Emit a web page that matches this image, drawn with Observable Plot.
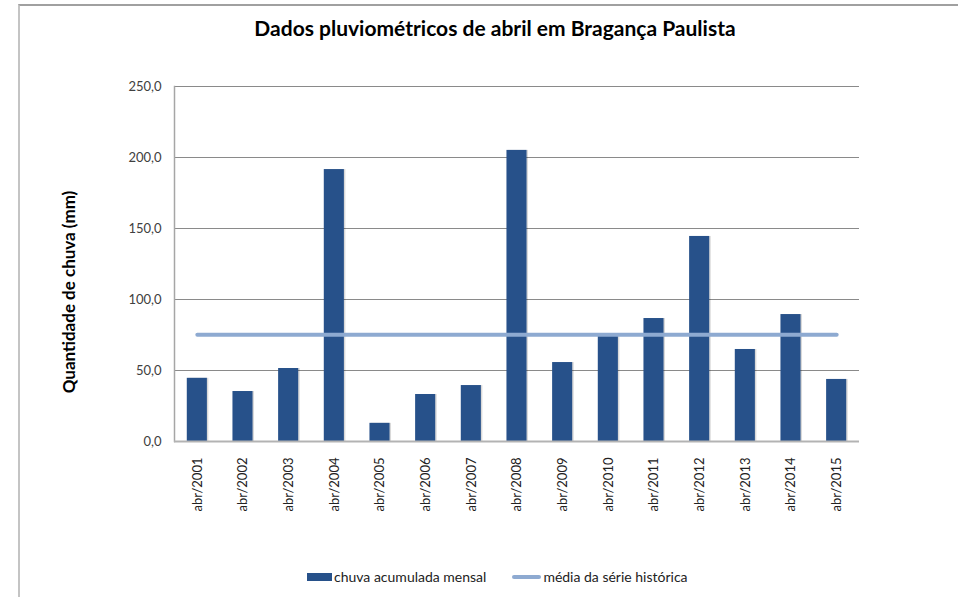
<!DOCTYPE html>
<html><head><meta charset="utf-8">
<script src="https://cdn.jsdelivr.net/npm/d3@7"></script>
<script src="https://cdn.jsdelivr.net/npm/@observablehq/plot@0.6"></script>
<style>
body{margin:0;background:#fff;}
#wrap{position:relative;width:958px;height:597px;overflow:hidden;font-family:Lato,"Open Sans",sans-serif;}
#border{position:absolute;left:18px;top:4px;width:960px;height:600px;border-top:2px solid #a0a0a0;border-left:2px solid #c4c4c4;}
#chart{position:absolute;left:0;top:0;}
#title{position:absolute;top:15px;left:0;width:990px;text-align:center;font-weight:bold;font-size:21px;color:#000;}
#ylabel{position:absolute;left:68px;top:292px;transform:translate(-50%,-50%) rotate(-90deg);white-space:nowrap;font-weight:bold;font-size:17px;color:#000;}
#legend{position:absolute;top:568px;left:307px;display:flex;align-items:center;font-size:14px;color:#222;}
.item{display:flex;align-items:center;margin-right:26px;}
.sw{display:inline-block;margin-right:2px;}
</style>
</head><body>
<div id="wrap">
  <div id="border"></div>
  <div id="chart"></div>
  <div id="title"></div>
  <div id="ylabel"></div>
  <div id="legend"></div>
</div>
<script>
const titulo = "Dados pluviométricos de abril em Bragança Paulista";
const rotuloY = "Quantidade de chuva (mm)";
const meses = ["abr/2001","abr/2002","abr/2003","abr/2004","abr/2005","abr/2006","abr/2007","abr/2008","abr/2009","abr/2010","abr/2011","abr/2012","abr/2013","abr/2014","abr/2015"];
const chuva = [44.5, 35.2, 51.4, 191.5, 12.8, 33.1, 39.4, 205.0, 55.6, 74.0, 86.6, 144.4, 64.8, 89.4, 43.7];
const mediaHistorica = 75.1;
const yTicks = [0, 50, 100, 150, 200, 250];
const series = ["chuva acumulada mensal", "média da série histórica"];
const corBarra = "#27518a";
const corMedia = "#8eaad1";

document.getElementById("title").textContent = titulo;
document.getElementById("ylabel").textContent = rotuloY;

const fmt = d => d3.format(".1f")(d).replace(".", ",");

const chart = Plot.plot({
  width: 958, height: 597,
  marginLeft: 174, marginRight: 99, marginTop: 86, marginBottom: 156,
  style: {fontFamily: "Lato, 'Open Sans', sans-serif", fontSize: "13px", background: "transparent"},
  x: {domain: meses, paddingInner: 0.56, paddingOuter: 0.28, round: false, label: null, axis: null},
  y: {domain: [0, 250], label: null, axis: null},
  marks: [
    Plot.ruleY(yTicks.filter(d => d > 0), {stroke: "#8a8a8a", strokeWidth: 1}),
    Plot.frame({anchor: "left", stroke: "#a6a6a6", strokeWidth: 1.5}),
    Plot.barY(chuva, {x: meses, y: chuva, fill: "#000", fillOpacity: 0.15, dx: 1.5, dy: 0}),
    Plot.barY(chuva, {x: meses, y: chuva, fill: corBarra}),
    Plot.ruleY([0], {stroke: "#b3b3b3", strokeWidth: 2}),
    Plot.line(meses, {x: d => d, y: () => mediaHistorica, stroke: corMedia, strokeWidth: 4, strokeLinecap: "round"}),
    Plot.axisY(yTicks, {tickSize: 0, tickPadding: 13, tickFormat: fmt, fill: "#404040", fontSize: 13, label: null}),
    Plot.axisX({tickSize: 0, tickPadding: 16, tickRotate: -90, fill: "#222", fontSize: 13, label: null})
  ]
});
document.getElementById("chart").appendChild(chart);

const legend = document.getElementById("legend");
series.forEach((name, i) => {
  const item = document.createElement("div");
  item.className = "item";
  const sw = document.createElement("span");
  sw.className = "sw";
  if (i === 0) { sw.style.width = "25px"; sw.style.height = "8px"; sw.style.background = corBarra; }
  else { sw.style.width = "29px"; sw.style.height = "4px"; sw.style.background = corMedia; sw.style.borderRadius = "2px"; }
  const t = document.createElement("span");
  t.textContent = name;
  item.appendChild(sw); item.appendChild(t);
  legend.appendChild(item);
});
</script>
</body></html>
